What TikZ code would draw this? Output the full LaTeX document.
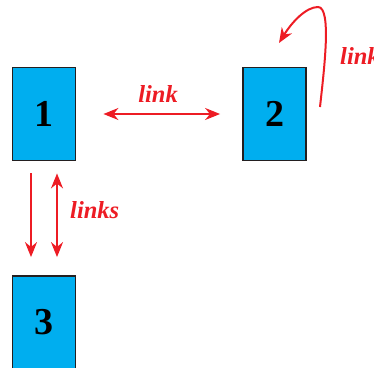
\documentclass[tikz,border=0pt]{standalone}
\usepackage{fontspec}
\setmainfont{Liberation Serif}
\usetikzlibrary{arrows.meta}
\definecolor{boxblue}{HTML}{00AEEF}
\definecolor{boxedge}{HTML}{231F20}
\definecolor{linkred}{HTML}{ED1C24}
\begin{document}
\begin{tikzpicture}[x=1pt,y=-1pt,
  page/.style={draw=boxedge,line width=1.8pt,fill=boxblue,minimum width=63pt,minimum height=93pt,
    inner sep=0pt,font=\fontsize{38}{38}\selectfont\bfseries},
  linkarrow/.style={draw=linkred,line width=2pt,-{Stealth[length=15pt,width=12pt]}},
  twoway/.style={draw=linkred,line width=2pt,{Stealth[length=15pt,width=12pt]}-{Stealth[length=15pt,width=12pt]}},
  linklabel/.style={text=linkred,font=\fontsize{24.5}{24.5}\selectfont\bfseries\itshape,inner sep=0pt}]
\useasboundingbox (0,0) rectangle (374,367);
\node[page] (p1) at (44,114) {1};
\node[page] (p2) at (274.5,114) {2};
\node[page] (p3) at (44,322.5) {3};
% link between page 1 and page 2
\draw[twoway,shorten <=27pt,shorten >=22pt] (p1.east) -- (p2.west);
\node[linklabel,anchor=base] (lh) at (158,102) {link};
% links between page 1 and page 3
\coordinate (a1) at ([xshift=-13pt]p1.south);
\coordinate (a3) at ([xshift=-13pt]p3.north);
\coordinate (b1) at ([xshift=13pt]p1.south);
\coordinate (b3) at ([xshift=13pt]p3.north);
\draw[linkarrow,shorten <=12pt,shorten >=18pt] (a1) -- (a3);
\draw[twoway,shorten <=12pt,shorten >=18pt] (b1) -- (b3);
\node[linklabel,anchor=base west] (lk) at (70,218) {links};
% self link on page 2
\coordinate (s0) at (320,107);
\coordinate (sm) at (318,7);
\coordinate (s1) at (279,43);
\draw[linkarrow] (s0) .. controls (324,70) and (332,7) .. (sm)
  .. controls (306,7) and (292,22) .. (s1);
\node[linklabel,anchor=base west] (ls) at (340,64) {link};
\end{tikzpicture}
\end{document}
